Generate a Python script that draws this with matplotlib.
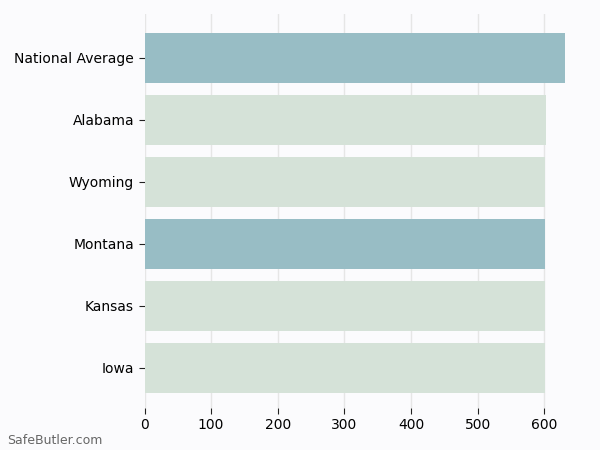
import matplotlib.pyplot as plt

# values
states = ["National Average", "Alabama", "Wyoming", "Montana", "Kansas", "Iowa"]
costs = [631, 602, 601, 601, 601, 601]
highlight = ["National Average", "Montana"]

dark = "#98bdc5"
light = "#d5e2d8"
bg = "#fbfbfd"

fig = plt.figure(figsize=(6, 4.5), dpi=100, facecolor=bg)
ax = fig.add_axes([144.5 / 600, 1 - 408 / 450, (585.5 - 144.5) / 600, (408 - 14) / 450])
ax.set_facecolor(bg)

colors = [dark if s in highlight else light for s in states]
ax.barh(range(len(states)), costs, height=0.8, color=colors, zorder=2)

ax.set_yticks(range(len(states)))
ax.set_yticklabels(states, fontsize=10)
ax.set_ylim(5.65, -0.71)
ax.set_xlim(0, 662)
ax.set_xticks([0, 100, 200, 300, 400, 500, 600])
ax.tick_params(axis="x", labelsize=10, length=4, color="#222222")
ax.tick_params(axis="y", length=4, color="#222222")
ax.grid(axis="x", color="#e6e6e6", linewidth=1, zorder=0)
for sp in ax.spines.values():
    sp.set_visible(False)

fig.text(7 / 600, 1 - 441 / 450, "SafeButler.com", fontsize=9, color="#666666", va="center")

fig.savefig("out.png", dpi=100, facecolor=bg)
